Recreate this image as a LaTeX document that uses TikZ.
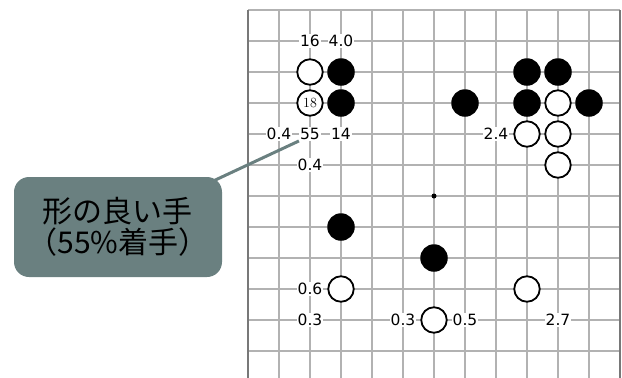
\documentclass[tikz,border=0pt]{standalone}
\usepackage{fontspec}
\newfontfamily\numfont{DejaVu Sans}
\newfontfamily\jpfont{Noto Sans CJK JP}
\usetikzlibrary{backgrounds,calc}
\pgfdeclarelayer{connector}
\pgfsetlayers{background,connector,main}
\definecolor{calloutgray}{RGB}{106,128,128}
\definecolor{gridgray}{RGB}{178,178,178}
\definecolor{edgegray}{RGB}{120,120,120}

\begin{document}
\begin{tikzpicture}[x=1pt,y=-1pt,
  board/.style={shift={(248,10)},x=31pt,y=-31pt},
  gridline/.style={draw=gridgray,line width=1.4pt},
  edgeline/.style={draw=edgegray,line width=2.4pt},
  bstone/.style={circle,fill=black,minimum size=27.5pt,inner sep=0pt},
  wstone/.style={circle,draw=black,line width=1.8pt,fill=white,
    minimum size=25.5pt,inner sep=0pt,font=\fontsize{14}{14}\selectfont},
  num/.style={fill=white,inner sep=1pt,font=\numfont\fontsize{15.5}{17}\selectfont},
  callout/.style={fill=calloutgray,rounded corners=15pt,minimum width=208pt,
    minimum height=100pt,align=center,
    font=\jpfont\fontsize{30}{31}\selectfont},
  leader/.style={draw=calloutgray,line width=3pt}]
 \useasboundingbox (0,0) rectangle (622,378);

 \begin{scope}[board]
  % board lines
  \begin{pgfonlayer}{background}
   \foreach \i in {1,...,11}
    \draw[gridline] (\i,0) -- (\i,11.87);
   \foreach \j in {0,...,11}
    \draw[gridline] (0,\j) -- (12,\j);
   \draw[edgeline] (0,0) -- (0,11.87);
   \draw[edgeline] (12,0) -- (12,11.87);
  \end{pgfonlayer}
  \node[circle,fill=black,inner sep=0pt,minimum size=5pt] (hoshi) at (6,6) {};

  % stones
  \foreach \c/\r in {3/2,3/3,9/2,10/2,7/3,9/3,11/3,3/7,6/8}
   \node[bstone] (b-\c-\r) at (\c,\r) {};
  \foreach \c/\r in {2/2,10/3,9/4,10/4,10/5,3/9,9/9,6/10}
   \node[wstone] (w-\c-\r) at (\c,\r) {};
  \node[wstone] (w18) at (2,3) {18};

  % values
  \node[num] (n16) at (2,1) {16};
  \node[num] (n40) at (3,1) {4.0};
  \node[num] (n04a) at (1,4) {0.4};
  \node[num] (n55) at (2,4) {55};
  \node[num] (n14) at (3,4) {14};
  \node[num] (n04b) at (2,5) {0.4};
  \node[num] (n24) at (8,4) {2.4};
  \node[num] (n06) at (2,9) {0.6};
  \node[num] (n03a) at (2,10) {0.3};
  \node[num] (n03b) at (5,10) {0.3};
  \node[num] (n05) at (7,10) {0.5};
  \node[num] (n27) at (10,10) {2.7};
 \end{scope}

 \node[callout] (callout) at (118,227) {形の良い手\\（55\%着手）};
 \begin{pgfonlayer}{connector}
  \draw[leader] ($(callout.north east)!-10pt!(n55.south west)$) -- (n55.south west);
 \end{pgfonlayer}

\end{tikzpicture}
\end{document}
